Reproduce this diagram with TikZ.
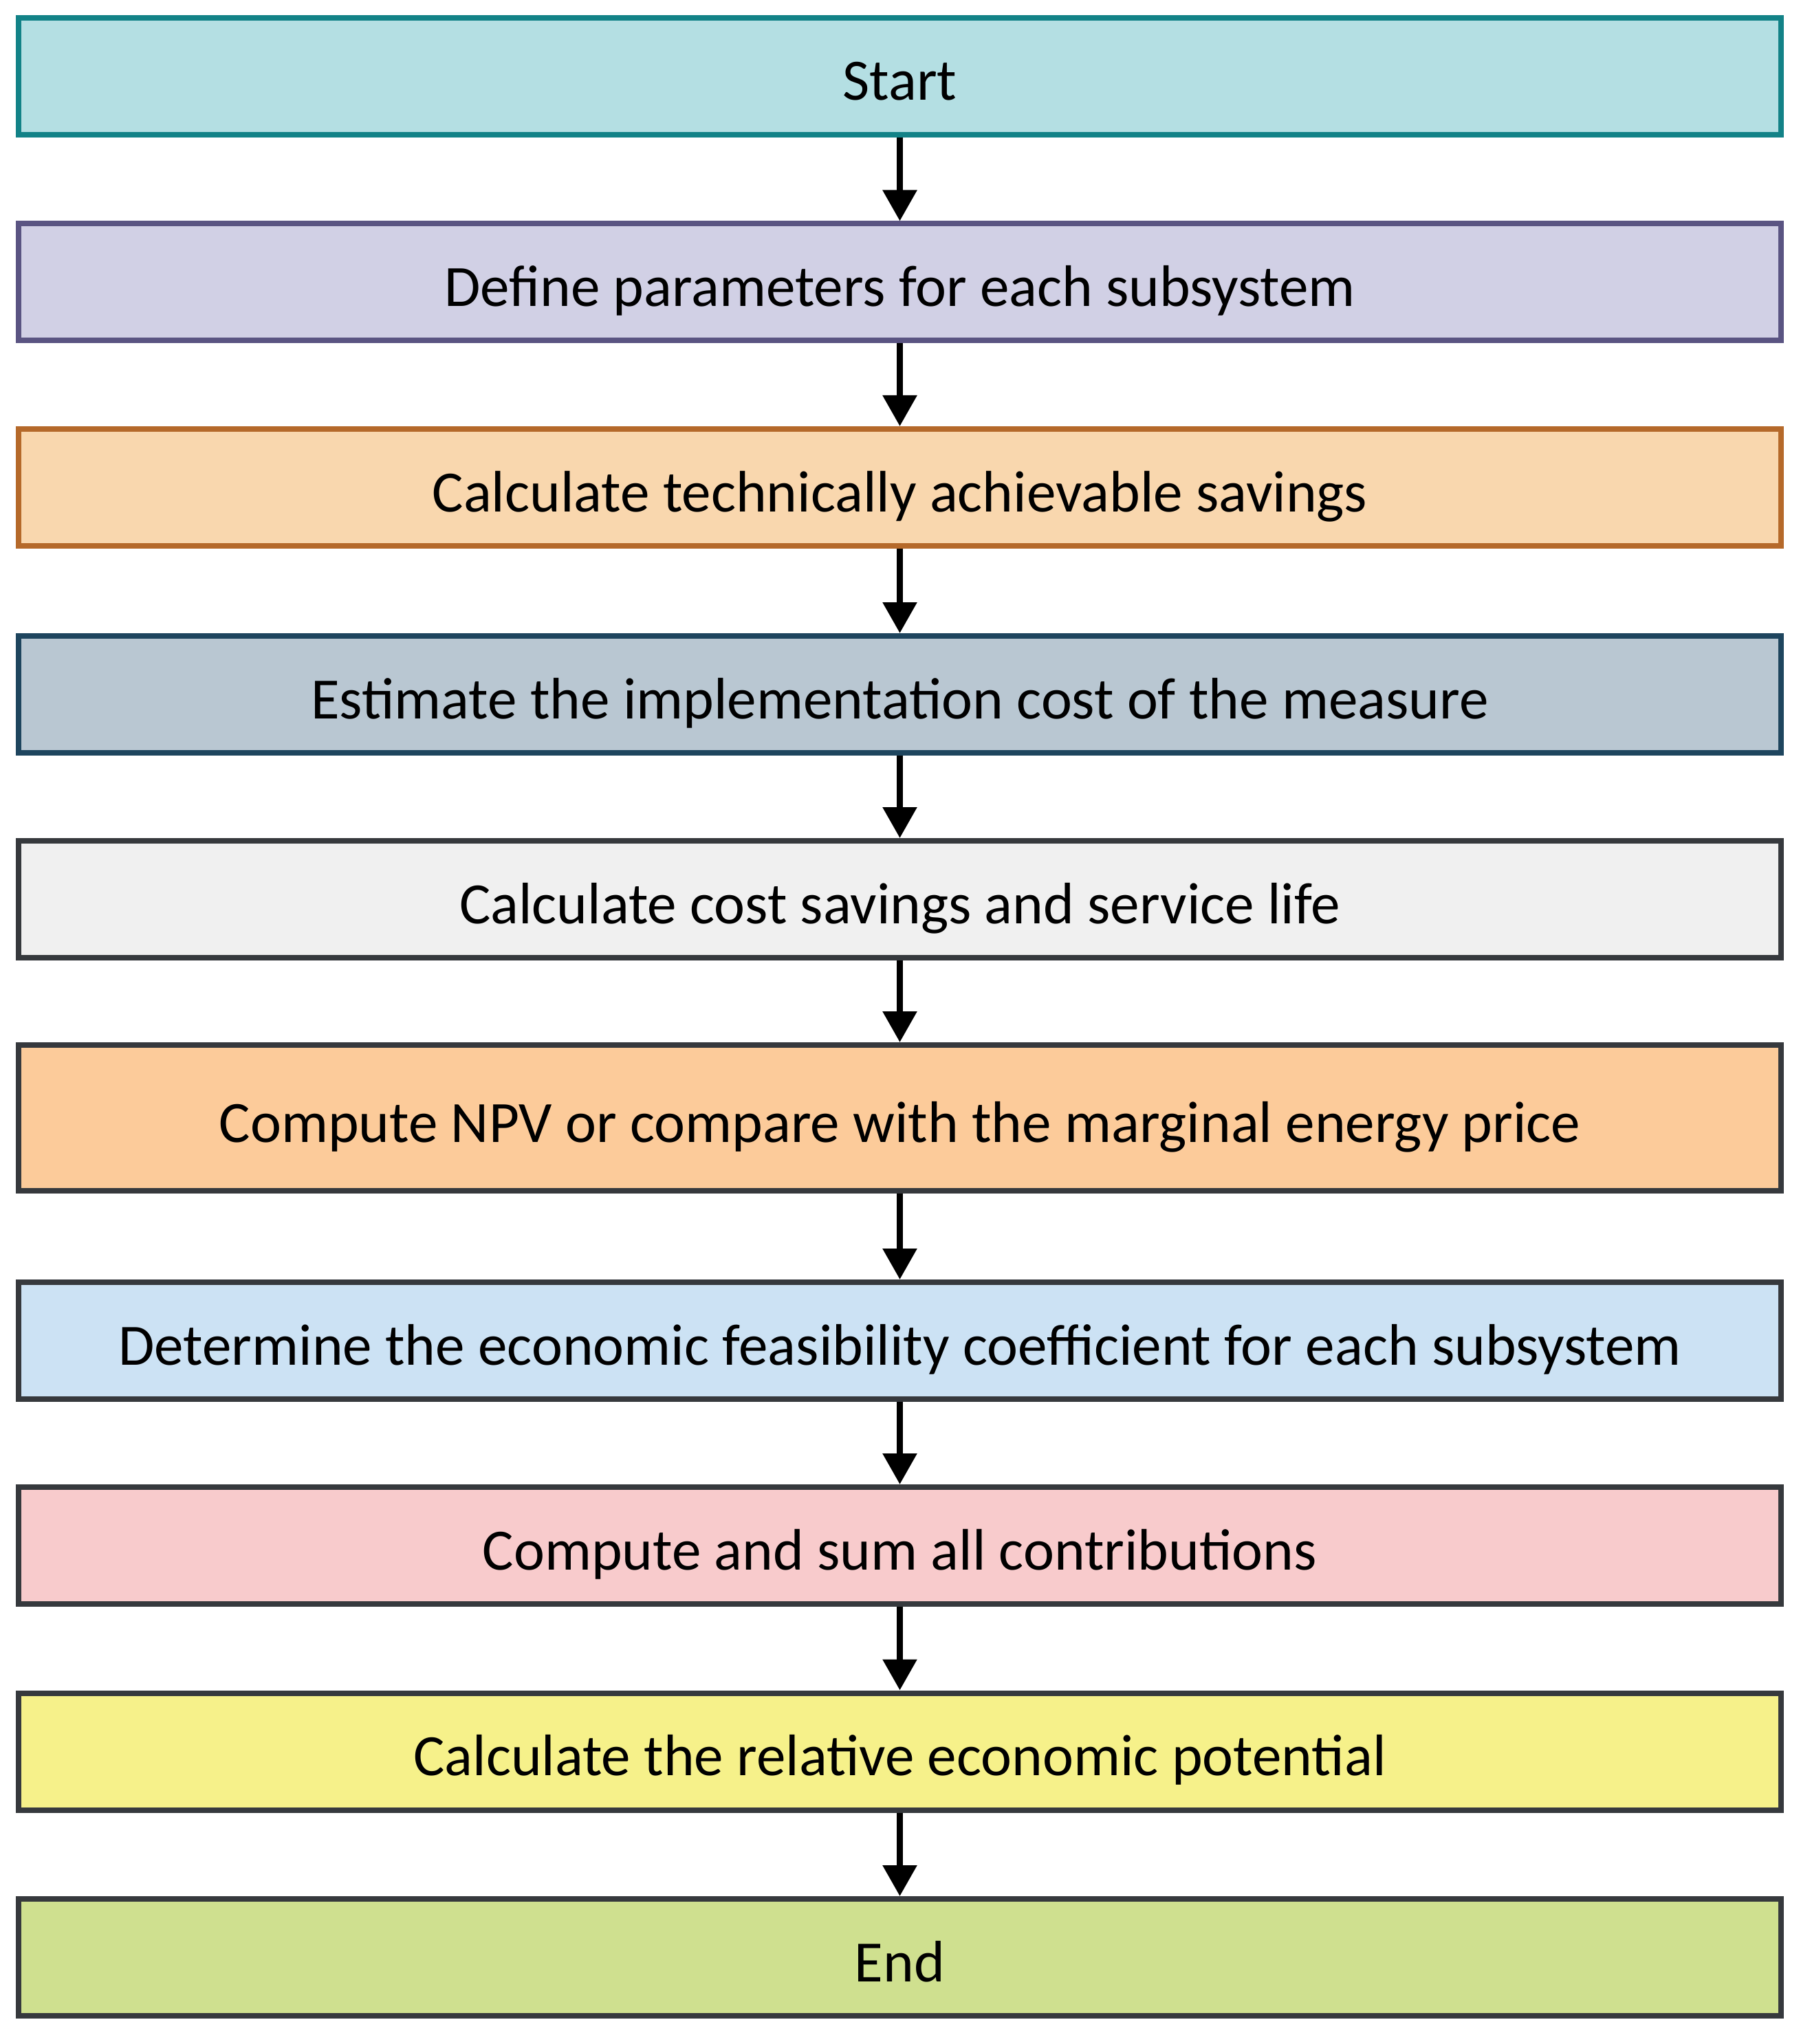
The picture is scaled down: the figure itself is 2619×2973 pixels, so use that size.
\documentclass[tikz,border=0pt]{standalone}
\usepackage{fontspec}
\setmainfont{Carlito}
\usetikzlibrary{arrows.meta}

\definecolor{startfill}{RGB}{180,223,227}
\definecolor{startline}{RGB}{18,130,135}
\definecolor{definefill}{RGB}{209,208,229}
\definecolor{defineline}{RGB}{90,84,130}
\definecolor{techfill}{RGB}{249,215,174}
\definecolor{techline}{RGB}{181,105,42}
\definecolor{costfill}{RGB}{185,199,210}
\definecolor{costline}{RGB}{30,69,94}
\definecolor{lifefill}{RGB}{240,240,240}
\definecolor{npvfill}{RGB}{252,203,154}
\definecolor{feasfill}{RGB}{204,226,244}
\definecolor{sumfill}{RGB}{248,203,204}
\definecolor{relfill}{RGB}{246,241,138}
\definecolor{endfill}{RGB}{207,224,143}
\definecolor{darkline}{RGB}{54,57,61}

\begin{document}
\begin{tikzpicture}[
  x=0.25pt, y=-0.25pt,
  stepbox/.style={draw=darkline, line width=2pt, minimum width=640.75pt,
    minimum height=42.5pt, inner sep=0pt, text height=17.5pt, text depth=0pt,
    font=\fontsize{21.3}{26}\selectfont},
  arr/.style={line width=2.25pt, -{Triangle[width=12pt,length=11.25pt]}},
]
\useasboundingbox (0,0) rectangle (2619,2973);
%\draw[gray, help lines] (0,0) grid[step=100] (2619,2973);
\node[stepbox, fill=startfill, draw=startline]   (start)  at (1308.5,111)  {Start};
\node[stepbox, fill=definefill, draw=defineline] (define) at (1308.5,410.5) {Define parameters for each subsystem};
\node[stepbox, fill=techfill, draw=techline]     (tech)   at (1308.5,709)  {Calculate technically achievable savings};
\node[stepbox, fill=costfill, draw=costline]     (cost)   at (1308.5,1010) {Estimate the implementation cost of the measure};
\node[stepbox, fill=lifefill]                    (life)   at (1308.5,1308) {Calculate cost savings and service life};
\node[stepbox, fill=npvfill, minimum height=53pt] (npv)   at (1308.5,1626) {Compute NPV or compare with the marginal energy price};
\node[stepbox, fill=feasfill]                    (feas)   at (1308.5,1950) {Determine the economic feasibility coefficient for each subsystem};
\node[stepbox, fill=sumfill]                     (sum)    at (1308.5,2248) {Compute and sum all contributions};
\node[stepbox, fill=relfill]                     (rel)    at (1308.5,2547.5) {Calculate the relative economic potential};
\node[stepbox, fill=endfill]                     (end)    at (1308.5,2847) {End};
\draw [arr] (start) -- (define);
\draw [arr] (define) -- (tech);
\draw [arr] (tech) -- (cost);
\draw [arr] (cost) -- (life);
\draw [arr] (life) -- (npv);
\draw [arr] (npv) -- (feas);
\draw [arr] (feas) -- (sum);
\draw [arr] (sum) -- (rel);
\draw [arr] (rel) -- (end);
\end{tikzpicture}
\end{document}
